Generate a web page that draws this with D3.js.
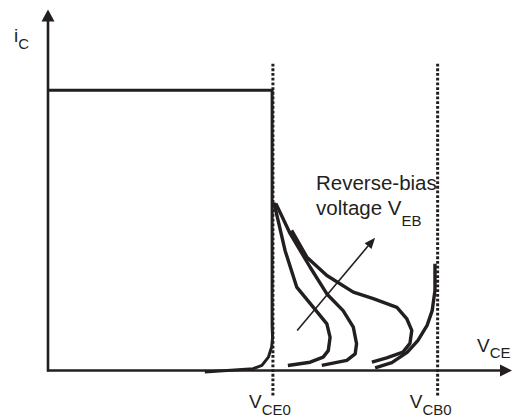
<!DOCTYPE html>
<html>
<head>
<meta charset="utf-8">
<script src="https://cdn.jsdelivr.net/npm/d3@7"></script>
<style>
  html, body { margin: 0; padding: 0; background: #fff; }
  svg { display: block; }
  text { font-family: "Liberation Sans", Arial, sans-serif; fill: #231f20; }
</style>
</head>
<body>
<svg id="chart" width="514" height="417"></svg>
<script>
// ---- data (schematic units: V_CE 0..100, i_C 0..100) ----
const vCE0 = 48.3;
const vCB0 = 83.8;
const dottedRange = [-6.9, 85];

// Common-emitter characteristic with breakdown at V_CE0
const mainCurve = [
  [0, 77.6], [48.3, 77.6], [48.3, 12.5], [48.4, 9.1], [48.2, 6.5],
  [47.5, 3.7], [46.1, 1.4], [44.2, 0.5], [33.8, -0.4]
];
// Curves for increasing reverse-bias voltage V_EB
const curveVx = [
  [48.7, 51.1, 53.6, 57.2, 60.1, 60.8, 60.4, 59.3, 56.5, 51.7],
  [49.1, 52.2, 56.5, 60.1, 63.6, 65.8, 66.5, 66.2, 64.4, 59.0],
  [52.5, 55.8, 60.1, 65.8, 70.1, 75.2, 77.3, 78.4, 78.0, 76.5, 73.0, 69.8],
  [83.4, 83.4, 82.8, 81.7, 79.7, 77.4, 74.1, 70.5]
];
const curveIc = [
  [46.5, 33.2, 23.1, 17.5, 12.9, 9.2, 5.5, 3.7, 2.3, 1.4],
  [46.3, 37.9, 28.6, 21.2, 16.6, 12.0, 7.4, 4.6, 2.8, 1.4],
  [38.8, 31.4, 26.3, 21.7, 19.9, 17.5, 14.4, 11.1, 7.5, 5.1, 3.5, 2.3],
  [29.6, 22.2, 16.6, 12.5, 8.3, 5.0, 2.2, 0.7]
];
// Arrow showing increasing V_EB
const vebArrow = [[53.7, 11.1], [70.5, 36.8]];

// Labels
const yLabel = ["i", "C"];
const xLabel = ["V", "CE"];
const tickLabels = [["V", "CE0"], ["V", "CB0"]];
const annotation = ["Reverse-bias", "voltage V", "EB"];

// ---- drawing ----
const svg = d3.select("#chart");
const ink = "#231f20";
const x = d3.scaleLinear().domain([0, 100]).range([48, 512]);
const y = d3.scaleLinear().domain([0, 100]).range([370.5, 9.5]);

// dotted reference lines
[vCE0, vCB0].forEach(v => {
  svg.append("line")
    .attr("x1", x(v) + 0.8).attr("x2", x(v) + 0.8)
    .attr("y1", y(dottedRange[1])).attr("y2", y(dottedRange[0]))
    .attr("stroke", ink).attr("stroke-width", 3)
    .attr("stroke-dasharray", "2.8,1.9");
});

// axes
const axisW = 2.6;
svg.append("line")
  .attr("x1", x(0)).attr("x2", x(0))
  .attr("y1", y(0) + 1).attr("y2", y(97))
  .attr("stroke", ink).attr("stroke-width", axisW);
svg.append("line")
  .attr("x1", x(0) - 1).attr("x2", x(97.5))
  .attr("y1", y(0)).attr("y2", y(0))
  .attr("stroke", ink).attr("stroke-width", axisW);
// arrow heads
svg.append("path")
  .attr("d", `M${x(0)},${y(100)} L${x(0) - 6.5},${y(100) + 12} L${x(0) + 6.5},${y(100) + 12} Z`)
  .attr("fill", ink);
svg.append("path")
  .attr("d", `M${x(100)},${y(0)} L${x(100) - 12},${y(0) - 6} L${x(100) - 12},${y(0) + 6} Z`)
  .attr("fill", ink);

// curves
const line = d3.line().x(d => x(d[0])).y(d => y(d[1])).curve(d3.curveLinear);
svg.append("path")
  .attr("d", line(mainCurve))
  .attr("fill", "none").attr("stroke", ink).attr("stroke-width", 3)
  .attr("stroke-linejoin", "round");

curveVx.forEach((xs, i) => {
  const pts = xs.map((v, j) => [v, curveIc[i][j]]);
  svg.append("path")
    .attr("d", line(pts))
    .attr("fill", "none").attr("stroke", ink).attr("stroke-width", 3.4)
    .attr("stroke-linejoin", "round");
});

// arrow for V_EB
const ax1 = x(vebArrow[0][0]), ay1 = y(vebArrow[0][1]);
const ax2 = x(vebArrow[1][0]), ay2 = y(vebArrow[1][1]);
const ang = Math.atan2(ay2 - ay1, ax2 - ax1);
const hl = 11, hw = 4.5;
const bx = ax2 - hl * Math.cos(ang), by = ay2 - hl * Math.sin(ang);
svg.append("line")
  .attr("x1", ax1).attr("y1", ay1).attr("x2", bx).attr("y2", by)
  .attr("stroke", ink).attr("stroke-width", 1.6);
svg.append("path")
  .attr("d", `M${ax2},${ay2} L${bx - hw * Math.sin(ang)},${by + hw * Math.cos(ang)} L${bx + hw * Math.sin(ang)},${by - hw * Math.cos(ang)} Z`)
  .attr("fill", ink);

// labels
function subLabel(px, py, parts, big, small, dy) {
  const t = svg.append("text").attr("x", px).attr("y", py).style("font-size", big + "px");
  t.append("tspan").text(parts[0]);
  t.append("tspan").attr("dy", dy).style("font-size", small + "px").text(parts[1]);
  return t;
}
subLabel(14, 42, yLabel, 19, 15, 7);
subLabel(477, 352, xLabel, 19, 15, 6);
subLabel(249, 408, tickLabels[0], 19, 15, 7);
subLabel(x(vCB0) - 27, 408, tickLabels[1], 19, 15, 7);

svg.append("text").attr("x", 316).attr("y", 190).style("font-size", "20.5px").text(annotation[0]);
const t2 = svg.append("text").attr("x", 316).attr("y", 215).style("font-size", "20.5px");
t2.append("tspan").text(annotation[1]);
t2.append("tspan").attr("dy", 11).style("font-size", "15px").text(annotation[2]);
</script>
</body>
</html>
